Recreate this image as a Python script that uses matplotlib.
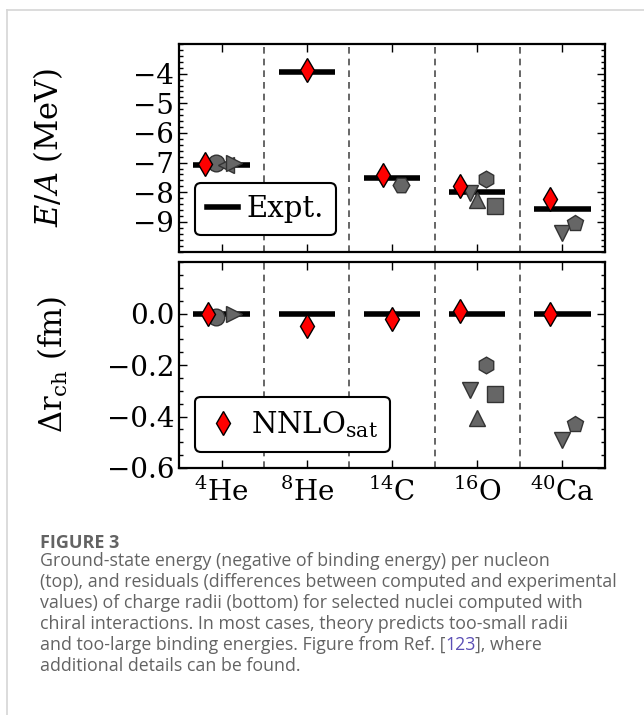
import numpy as np
import matplotlib
matplotlib.use("Agg")
import matplotlib.pyplot as plt
from matplotlib.lines import Line2D
from matplotlib.ticker import MultipleLocator

# Kerne und Werte
nuclei = [r'$^{4}$He', r'$^{8}$He', r'$^{14}$C', r'$^{16}$O', r'$^{40}$Ca']
expt_EA = [-7.07, -3.93, -7.52, -7.98, -8.55]
nnlo_EA = [-7.05, -3.87, -7.43, -7.79, -8.24]
nnlo_dr = [0.0, -0.05, -0.02, 0.01, 0.0]

# andere chirale Wechselwirkungen: Kern-Index, E/A, Delta r_ch
circle_idx, circle_EA, circle_dr = [0], [-7.03], [-0.013]
ltri_idx, ltri_EA, ltri_dr = [0], [-7.08], [np.nan]
rtri_idx, rtri_EA, rtri_dr = [0], [-7.03], [0.0]
hexa_idx, hexa_EA, hexa_dr = [2], [-7.76], [np.nan]
dtri_idx, dtri_EA, dtri_dr = [3, 4], [-8.01, -9.39], [-0.297, -0.493]
utri_idx, utri_EA, utri_dr = [3], [-8.27], [-0.406]
hexb_idx, hexb_EA, hexb_dr = [3], [-7.54], [-0.20]
sq_idx, sq_EA, sq_dr = [3], [-8.46], [-0.312]
pent_idx, pent_EA, pent_dr = [4], [-9.03], [-0.428]

caption_title = 'FIGURE 3'
caption_lines = [
    'Ground-state energy (negative of binding energy) per nucleon',
    '(top), and residuals (differences between computed and experimental',
    'values) of charge radii (bottom) for selected nuclei computed with',
    'chiral interactions. In most cases, theory predicts too-small radii',
    'and too-large binding energies. Figure from Ref. [',
    'additional details can be found.',
]
ref_num = '123'
ref_tail = '], where'

# --- Stil ---
plt.rcParams['font.family'] = ['DejaVu Serif']
plt.rcParams['mathtext.fontset'] = 'dejavuserif'
plt.rcParams['font.size'] = 20
plt.rcParams['xtick.direction'] = 'in'
plt.rcParams['ytick.direction'] = 'in'
plt.rcParams['xtick.top'] = True
plt.rcParams['ytick.right'] = True

W, H = 644, 715
fig = plt.figure(figsize=(W / 100, H / 100), dpi=100)


def box(x0, y0, x1, y1):
    # Pixelkoordinaten -> Figurkoordinaten
    return [x0 / W, 1 - y1 / H, (x1 - x0) / W, (y1 - y0) / H]


ax1 = fig.add_axes(box(179, 44, 605, 251.5))
ax2 = fig.add_axes(box(179, 262, 605, 468))

x = np.arange(len(nuclei))
grey = dict(ls='none', mfc='0.4', mec='0.2', mew=1.0, ms=12, zorder=3)
red = dict(ls='none', marker='d', mfc='red', mec='black', mew=1.0, ms=12.5, zorder=4)

others = [
    ('o', circle_idx, circle_EA, circle_dr, -0.06),
    ('<', ltri_idx, ltri_EA, ltri_dr, 0.05),
    ('>', rtri_idx, rtri_EA, rtri_dr, 0.14),
    ('H', hexa_idx, hexa_EA, hexa_dr, 0.10),
    ('v', dtri_idx, dtri_EA, dtri_dr, None),
    ('^', utri_idx, utri_EA, utri_dr, 0.0),
    ('h', hexb_idx, hexb_EA, hexb_dr, 0.10),
    ('s', sq_idx, sq_EA, sq_dr, 0.21),
    ('p', pent_idx, pent_EA, pent_dr, 0.15),
]
dtri_dx = [-0.09, 0.0]
nnlo_dx_top = [-0.19, 0.0, -0.10, -0.20, -0.15]
nnlo_dx_bot = [-0.16, 0.0, 0.0, -0.20, -0.15]

for ax, panel in ((ax1, 'E'), (ax2, 'r')):
    for xv in x[:-1] + 0.5:
        ax.axvline(xv, color='0.3', ls=(0, (4, 3)), lw=1.2, zorder=1)
    yexp = expt_EA if panel == 'E' else np.zeros(len(nuclei))
    ax.hlines(yexp, x - 0.33, x + 0.33, color='black', lw=4, zorder=2)
    for m, idx, ea, dr, dx in others:
        vals = ea if panel == 'E' else dr
        offs = dtri_dx if dx is None else [dx] * len(idx)
        ax.plot(np.array(idx) + np.array(offs), vals, marker=m, **grey)
    if panel == 'E':
        ax.plot(x + np.array(nnlo_dx_top), nnlo_EA, **red)
    else:
        ax.plot(x + np.array(nnlo_dx_bot), nnlo_dr, **red)
    ax.set_xlim(-0.5, 4.5)
    ax.set_xticks(x)
    ax.tick_params(which='major', length=6, width=1)
    ax.tick_params(which='minor', length=3, width=1)
    for s in ax.spines.values():
        s.set_linewidth(1.6)

ax1.set_ylim(-10, -3)
ax1.set_yticks([-9, -8, -7, -6, -5, -4])
ax1.yaxis.set_minor_locator(MultipleLocator(0.2))
ax1.set_xticklabels([])
ax1.set_ylabel(r'$E/A$ (MeV)', fontsize=22)
ax1.yaxis.set_label_coords(-0.268, 0.5)

ax2.set_ylim(-0.6, 0.2)
ax2.set_yticks([-0.6, -0.4, -0.2, 0.0])
ax2.yaxis.set_minor_locator(MultipleLocator(0.05))
ax2.set_xticklabels(nuclei)
ax2.tick_params(axis='x', pad=7)
ax2.set_ylabel(r'$\Delta \mathrm{r}_{\mathrm{ch}}$ (fm)', fontsize=22)
ax2.yaxis.set_label_coords(-0.256, 0.5)

h1 = [Line2D([], [], color='black', lw=4)]
leg1 = ax1.legend(h1, ['Expt.'], loc='lower left', fancybox=True, fontsize=21,
                  handlelength=1.05, handletextpad=0.3, borderpad=0.42,
                  borderaxespad=0.55, framealpha=1)
h2 = [Line2D([], [], **red)]
leg2 = ax2.legend(h2, [r'NNLO$_{\mathrm{sat}}$'], loc='lower left', fancybox=True,
                  fontsize=21, numpoints=1, handlelength=1.05, handletextpad=0.45,
                  borderpad=0.42, borderaxespad=0.55, framealpha=1)
for lg in (leg1, leg2):
    lg.get_frame().set_edgecolor('black')
    lg.get_frame().set_linewidth(1.5)

# Seitenrahmen
fig.add_artist(Line2D([7 / W, 1], [1 - 10 / H] * 2, color='#d6d6d6', lw=1.2))
fig.add_artist(Line2D([7 / W] * 2, [0, 1 - 10 / H], color='#d6d6d6', lw=1.2))

# Bildunterschrift
cap_font = ['Open Sans', 'DejaVu Sans']
cap_col = '#636363'
cap_size = 12.8
fig.text(39.5 / W, 1 - 548.5 / H, caption_title, family=cap_font, fontsize=13,
         weight='bold', color=cap_col, va='baseline')
base0, step = 565.5, 21.1
texts = []
for i, line in enumerate(caption_lines):
    t = fig.text(39.5 / W, 1 - (base0 + i * step) / H, line, family=cap_font,
                 fontsize=cap_size, color=cap_col, va='baseline')
    texts.append(t)

fig.canvas.draw()
r = fig.canvas.get_renderer()
t_ref = texts[4]
y_ref = 1 - (base0 + 4 * step) / H
x_end = t_ref.get_window_extent(r).x1 / W
t_num = fig.text(x_end, y_ref, ref_num, family=cap_font, fontsize=cap_size,
                 color='#5b4fb5', va='baseline')
x_end = t_num.get_window_extent(r).x1 / W
fig.text(x_end, y_ref, ref_tail, family=cap_font, fontsize=cap_size,
         color=cap_col, va='baseline')

fig.savefig('out.png', dpi=100)
